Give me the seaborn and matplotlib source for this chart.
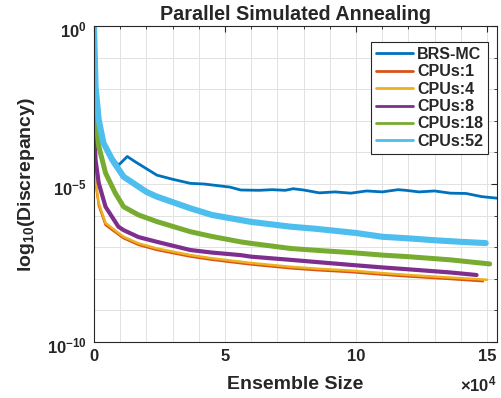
import numpy as np
import pandas as pd
import matplotlib
matplotlib.use("Agg")
import matplotlib.pyplot as plt
import matplotlib.transforms as mtransforms
import seaborn as sns

############################################################
# DATA (log10 of discrepancy)
############################################################

brs_x = [0, 500, 1800, 3000, 5500, 8200, 9400, 12700, 15800, 24000, 30000, 36800,
         42000, 47000, 52000, 56000, 63000, 68000, 73000, 76000, 80000, 86000, 92000,
         98000, 104000, 110000, 116000, 119000, 124000, 130000, 136000, 142000,
         148000, 154000]
brs_y = [0, -1.5, -3.0, -3.6, -4.0, -4.3, -4.4, -4.13, -4.3, -4.72, -4.85, -4.98,
         -5.0, -5.05, -5.1, -5.19, -5.2, -5.18, -5.2, -5.15, -5.19, -5.28, -5.25,
         -5.29, -5.22, -5.25, -5.18, -5.2, -5.25, -5.22, -5.29, -5.3, -5.4, -5.45]

cpu52_x = [0, 600, 1800, 3600, 7000, 11300, 20000, 24000, 36800, 45000, 55900, 60000,
           75000, 85000, 100000, 110000, 120000, 130000, 140000, 149500]
cpu52_y = [0, -1.93, -2.97, -3.7, -4.24, -4.77, -5.25, -5.4, -5.77, -5.98, -6.14, -6.2,
           -6.35, -6.42, -6.55, -6.67, -6.72, -6.78, -6.83, -6.87]

cpu18_x = [0, 600, 1800, 4400, 8200, 11300, 17000, 24000, 36800, 45000, 55900, 60000,
           75000, 85000, 98000, 110000, 120000, 136000, 151000]
cpu18_y = [-2.25, -2.97, -3.8, -4.65, -5.3, -5.72, -5.98, -6.19, -6.51, -6.66, -6.83, -6.88,
           -7.04, -7.1, -7.17, -7.25, -7.3, -7.4, -7.53]

cpu8_x = [0, 600, 1800, 4400, 9300, 11300, 17000, 24000, 36800, 45000, 55900, 60000,
          75000, 85000, 98000, 110000, 120000, 136000, 146000]
cpu8_y = [-3.2, -4.24, -4.97, -5.72, -6.35, -6.46, -6.68, -6.83, -7.09, -7.17, -7.25, -7.3,
          -7.4, -7.47, -7.56, -7.64, -7.7, -7.8, -7.88]

cpu4_x = [0, 600, 1800, 4400, 9300, 11300, 17000, 24000, 36800, 45000, 55900, 60000,
          75000, 85000, 98000, 110000, 120000, 136000, 150000]
cpu4_y = [-2.3, -4.87, -5.6, -6.23, -6.55, -6.67, -6.88, -7.04, -7.25, -7.35, -7.46, -7.5,
          -7.62, -7.68, -7.74, -7.82, -7.88, -7.96, -8.03]

cpu1_x = [0, 600, 1800, 4400, 9300, 11300, 17000, 24000, 36800, 45000, 55900, 60000,
          75000, 85000, 98000, 110000, 120000, 136000, 148500]
cpu1_y = [-2.3, -4.95, -5.68, -6.3, -6.6, -6.72, -6.93, -7.09, -7.3, -7.4, -7.51, -7.55,
          -7.67, -7.73, -7.79, -7.87, -7.93, -8.01, -8.08]

labels = ["BRS-MC", "CPUs:1", "CPUs:4", "CPUs:8", "CPUs:18", "CPUs:52"]
colors = ["#0072BD", "#D95319", "#EDB120", "#7E2F8E", "#77AC30", "#4DBEEE"]
widths = [2.0, 1.6, 1.8, 3.0, 3.6, 4.4]

series = [(brs_x, brs_y), (cpu1_x, cpu1_y), (cpu4_x, cpu4_y),
          (cpu8_x, cpu8_y), (cpu18_x, cpu18_y), (cpu52_x, cpu52_y)]

xticks = [0, 50000, 100000, 150000]
xtick_labels = ["0", "5", "10", "15"]
yticks = [1e-10, 1e-5, 1e0]
ytick_labels = ["10$^{-10}$", "10$^{-5}$", "10$^{0}$"]

############################################################
# STYLE
############################################################

sns.set_style("whitegrid")
plt.rcParams["font.family"] = ["Liberation Sans", "DejaVu Sans"]
plt.rcParams["font.weight"] = "bold"
plt.rcParams["mathtext.fontset"] = "custom"
plt.rcParams["mathtext.rm"] = "Liberation Sans:bold"
plt.rcParams["mathtext.bf"] = "Liberation Sans:bold"
plt.rcParams["mathtext.it"] = "Liberation Sans:bold"
plt.rcParams["mathtext.default"] = "bf"

fig = plt.figure(figsize=(5.02, 3.98), dpi=100)
ax = fig.add_axes([94 / 502, 1 - 342 / 398, 403 / 502, 316 / 398])

############################################################
# PLOT
############################################################

for (xs, ys), lab, col, lw in zip(series, labels, colors, widths):
    df = pd.DataFrame({"x": xs, "y": 10.0 ** np.array(ys)})
    sns.lineplot(data=df, x="x", y="y", ax=ax, color=col, lw=lw, label=lab)

ax.set_yscale("log")
ax.set_xlim(0, 153800)
ax.set_ylim(1e-10, 1e0)

ax.set_xticks(xticks)
ax.set_xticklabels(xtick_labels)
ax.set_xticks(np.arange(0, 150001, 10000), minor=True)
ax.set_yticks(yticks)
ax.set_yticklabels(ytick_labels)
ax.set_yticks([10.0 ** k for k in range(-10, 1)], minor=True)
ax.yaxis.set_minor_formatter(plt.NullFormatter())

ax.grid(True, which="both", color="#e2e2e2", lw=0.7)
ax.set_axisbelow(True)
for s in ax.spines.values():
    s.set_color("#262626")
    s.set_linewidth(0.8)

ax.tick_params(which="both", direction="in", top=True, right=True,
               colors="#262626", labelsize=12, pad=5)
ax.tick_params(which="major", length=4)
ax.tick_params(which="minor", length=2.5)

# nudge y tick labels so the base "10" sits on the tick like MATLAB
shift = mtransforms.ScaledTranslation(0, -3 / 100, fig.dpi_scale_trans)
for t in ax.get_yticklabels():
    t.set_transform(t.get_transform() + shift)

ax.set_title("Parallel Simulated Annealing", fontsize=14.2, fontweight="bold", pad=4)
ax.set_xlabel("Ensemble Size", fontsize=14, fontweight="bold")
ax.set_ylabel("log$_{10}$(Discrepancy)", fontsize=14, fontweight="bold")
ax.xaxis.set_label_coords(0.5, -0.108)
ax.yaxis.set_label_coords(-0.141, 0.5)

fig.text(497 / 502, 1 - 384 / 398, r"$\times$10$^{4}$", ha="right", va="center",
         fontsize=12, color="#262626")

leg = ax.legend(loc="upper right", bbox_to_anchor=(0.978, 0.949), borderaxespad=0,
                fancybox=False, framealpha=1, edgecolor="#262626",
                prop={"weight": "bold", "size": 11.5},
                handlelength=2.3, handletextpad=0.3, labelspacing=0.15,
                borderpad=0.3)
leg.get_frame().set_linewidth(0.8)
for h in leg.get_lines():
    h.set_linewidth(2.0)

fig.savefig("out.png", dpi=100)
